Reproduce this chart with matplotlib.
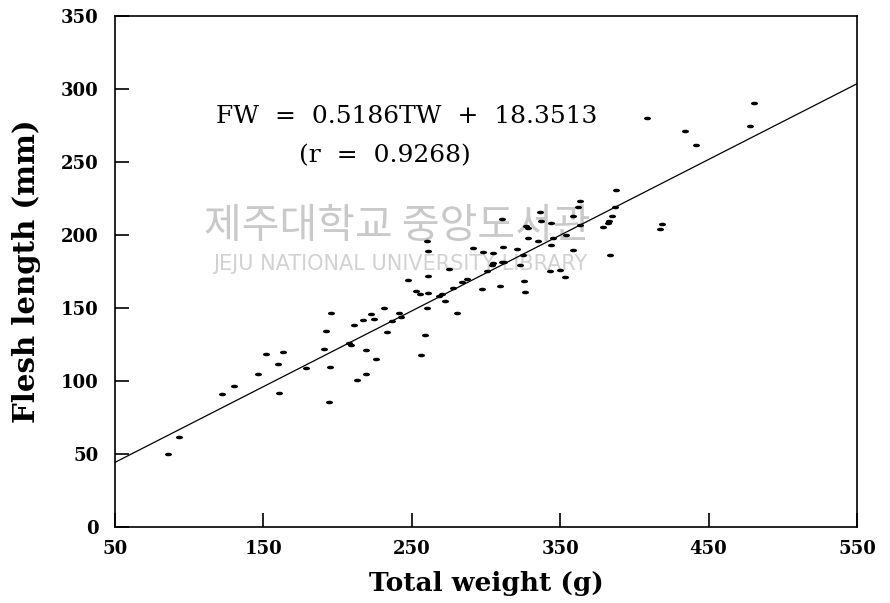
import numpy as np
import matplotlib.pyplot as plt
from matplotlib.path import Path
from matplotlib.transforms import Affine2D

# Total weight (g) and flesh length (mm)
total_weight = [85.9, 93.3, 121.9, 130.4, 146.2, 151.8, 163.0, 159.6, 160.3, 178.5,
                195.6, 222.3, 224.7, 217.3, 211.3, 192.0, 207.9, 209.0, 190.8, 219.3,
                226.1, 194.9, 194.4, 213.1, 219.1,
                260.0, 261.1, 260.7, 247.6, 252.8, 255.5, 260.7, 260.2, 258.9, 256.2,
                231.5, 241.6, 242.7, 236.9, 233.1,
                387.4, 363.3, 361.8, 358.8, 363.3, 336.4, 337.1, 343.6, 310.6, 326.7,
                328.5, 328.1, 335.2, 345.4, 353.9, 343.6, 358.4, 386.9, 384.7, 383.1,
                382.0, 378.6, 383.6, 291.4, 297.8, 304.9, 311.7, 321.1, 325.1, 303.8,
                304.9, 310.6, 312.3, 300.5, 322.9, 343.1, 349.9, 353.2, 309.4, 325.6,
                326.3, 297.5, 287.4, 284.0, 275.1, 270.6, 268.3, 272.4, 278.0, 280.7,
                480.4, 477.7, 408.7, 433.9, 441.7, 418.8, 417.3]
flesh_length = [49.7, 61.4, 91.1, 96.4, 104.5, 118.7, 120.1, 111.8, 91.9, 109.1,
                146.4, 146.2, 142.7, 142.1, 138.1, 134.2, 126.3, 124.9, 122.1, 121.2,
                114.8, 109.3, 85.9, 100.5, 104.5,
                196.1, 189.2, 171.8, 169.3, 161.7, 159.5, 160.6, 150.3, 131.3, 118.0,
                149.8, 146.9, 144.1, 141.4, 133.8,
                231.1, 223.2, 219.0, 212.9, 206.9, 216.0, 209.8, 208.2, 211.0, 206.0,
                204.6, 197.7, 196.1, 197.7, 200.2, 193.1, 189.5, 219.0, 213.3, 209.8,
                208.2, 205.3, 186.3, 190.9, 188.1, 187.4, 192.0, 190.4, 186.3, 179.6,
                180.5, 181.2, 181.6, 175.5, 179.6, 175.1, 176.2, 170.9, 165.2, 168.6,
                161.0, 162.9, 170.2, 167.5, 176.4, 159.5, 158.3, 154.8, 163.4, 146.9,
                290.2, 274.4, 279.9, 271.5, 261.4, 207.6, 203.9]

slope = 0.5186
intercept = 18.3513
x_ticks = [50, 150, 250, 350, 450, 550]
y_ticks = [0, 50, 100, 150, 200, 250, 300, 350]

fig = plt.figure(figsize=(8.9, 6.03), dpi=100)
ax = fig.add_axes([0.1292, 0.126, 0.8337, 0.8475])

# library watermark (light grey, behind the data)
ax.text(240.5, 205.5, '제주대학교 중앙도서관', fontsize=29.5, color='#c9c9c9',
        family=['Noto Sans CJK KR', 'DejaVu Sans'], ha='center', va='center', zorder=0)
ax.text(242, 180, 'JEJU NATIONAL UNIVERSITY LIBRARY', fontsize=15, color='#d2d2d2',
        family='DejaVu Sans', ha='center', va='center', zorder=0)

# small flattened dots like the original
dot = Path.unit_circle().transformed(Affine2D().scale(1.0, 0.5))
ax.scatter(total_weight, flesh_length, marker=dot, s=26, color='black',
           linewidths=0, zorder=3)

xs = np.array([50, 550])
ax.plot(xs, slope * xs + intercept, color='black', linewidth=0.9, zorder=2)

# regression equation
ax.text(246.8, 281, 'FW  =  0.5186TW  +  18.3513', fontsize=18, family='DejaVu Serif',
        ha='center', va='center')
ax.text(232, 254.3, '(r  =  0.9268)', fontsize=18, family='DejaVu Serif',
        ha='center', va='center')

ax.set_xlim(50, 550)
ax.set_ylim(0, 350)
ax.set_xticks(x_ticks)
ax.set_yticks(y_ticks)
ax.tick_params(direction='in', length=10, width=1.2, top=False, right=False)
ax.tick_params(axis='x', pad=9)
ax.tick_params(axis='y', pad=12)
for lab in ax.get_xticklabels() + ax.get_yticklabels():
    lab.set_family('DejaVu Serif')
    lab.set_fontsize(13)
    lab.set_fontweight('bold')
for sp in ax.spines.values():
    sp.set_linewidth(1.2)

ax.set_xlabel('Total weight (g)', fontsize=19, fontweight='bold',
              family='DejaVu Serif', labelpad=10)
ax.set_ylabel('Flesh length (mm)', fontsize=21, fontweight='bold',
              family='DejaVu Serif', labelpad=14)

fig.savefig('out.png', dpi=100)
